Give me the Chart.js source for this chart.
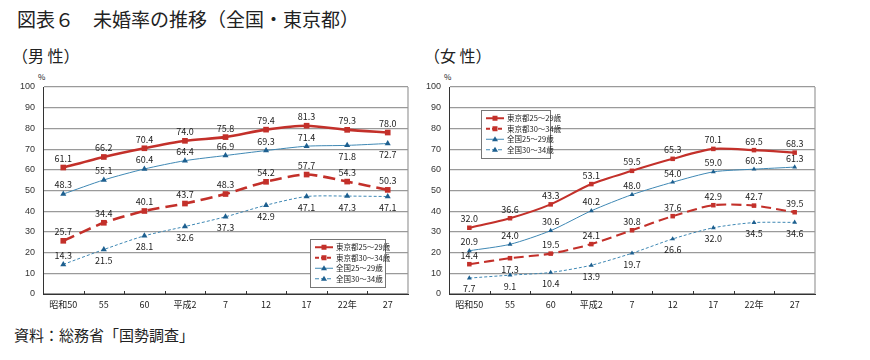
<!DOCTYPE html>
<html><head><meta charset="utf-8">
<script src="https://cdn.jsdelivr.net/npm/chart.js@4/dist/chart.umd.min.js"></script>
<style>
body{margin:0;background:#fff;width:870px;height:360px;position:relative;overflow:hidden;font-family:"Noto Sans CJK JP","Noto Sans",sans-serif;color:#222}
.t{position:absolute;white-space:nowrap}
canvas{position:absolute}
</style></head><body>
<div class="t" style="left:17px;top:5px;font-size:19px;">図表６　未婚率の推移（全国・東京都）</div>
<div class="t" style="left:12px;top:43px;font-size:16px;">（男 性）</div>
<div class="t" style="left:424px;top:43px;font-size:16px;">（女 性）</div>
<div class="t" style="left:38px;top:71px;font-size:8px;">%</div>
<div class="t" style="left:444px;top:71px;font-size:8px;">%</div>
<div class="t" style="left:14px;top:324px;font-size:15px;">資料：総務省「国勢調査」</div>
<canvas id="m" style="left:0;top:70px" width="420" height="250"></canvas>
<canvas id="f" style="left:420px;top:70px" width="430" height="250"></canvas>
<script>
const categories = ['昭和50','55','60','平成2','7','12','17','22年','27'];
const seriesNames = ['東京都25～29歳','東京都30～34歳','全国25～29歳','全国30～34歳'];
const yTicks = [0,10,20,30,40,50,60,70,80,90,100];

const maleTokyo2529 = [61.1,66.2,70.4,74.0,75.8,79.4,81.3,79.3,78.0];
const maleTokyo3034 = [25.7,34.4,40.1,43.7,48.3,54.2,57.7,54.3,50.3];
const maleNational2529 = [48.3,55.1,60.4,64.4,66.9,69.3,71.4,71.8,72.7];
const maleNational3034 = [14.3,21.5,28.1,32.6,37.3,42.9,47.1,47.3,47.1];

const femaleTokyo2529 = [32.0,36.6,43.3,53.1,59.5,65.3,70.1,69.5,68.3];
const femaleTokyo3034 = [14.4,17.3,19.5,24.1,30.8,37.6,42.9,42.7,39.5];
const femaleNational2529 = [20.9,24.0,30.6,40.2,48.0,54.0,59.0,60.3,61.3];
const femaleNational3034 = [7.7,9.1,10.4,13.9,19.7,26.6,32.0,34.5,34.6];

// label placement (a = above, b = below)
const malePlace = [
  'aaaaaaaaa','aaaaaaaaa','aaaaaaabb','abbbbbbbb'
];
const femalePlace = [
  'aaaaaaaaa','abaaaaaaa','aaaaaaaaa','bbbbbbbbb'
];

const RED='#c3302a', TEAL='#3f88b4', NAVY='#1d5f8f';
const CJK='"Noto Sans CJK JP","Noto Sans",sans-serif';

function makeDatasets(vals, big){
  const s = big?1:0.8;
  return [
    {label:seriesNames[0],data:vals[0],borderColor:RED,backgroundColor:RED,borderWidth:2.6*s,pointStyle:'rect',pointRadius:4*s,pointBorderWidth:0,tension:0.25},
    {label:seriesNames[1],data:vals[1],borderColor:RED,backgroundColor:RED,borderWidth:2.6*s,borderDash:big?[12,6]:[10,5],pointStyle:'rect',pointRadius:4*s,pointBorderWidth:0,tension:0.25},
    {label:seriesNames[2],data:vals[2],borderColor:TEAL,backgroundColor:NAVY,borderWidth:1,pointStyle:'triangle',pointRadius:3.5*s,pointBorderWidth:0,tension:0.25},
    {label:seriesNames[3],data:vals[3],borderColor:TEAL,backgroundColor:NAVY,borderWidth:1,borderDash:[3,2],pointStyle:'triangle',pointRadius:3.5*s,pointBorderWidth:0,tension:0.25}
  ];
}

const labelPlugin = {
  id:'vals',
  afterDatasetsDraw(chart){
    const ctx=chart.ctx, place=chart.options.plugins.vals.place;
    ctx.save();
    ctx.font='9px '+CJK; ctx.fillStyle='#222'; ctx.textAlign='center'; ctx.textBaseline='middle';
    chart.data.datasets.forEach((ds,i)=>{
      chart.getDatasetMeta(i).data.forEach((pt,j)=>{
        const off = place[i][j]==='a' ? -9 : 11;
        ctx.fillText(ds.data[j].toFixed(1), pt.x, pt.y+off);
      });
    });
    ctx.restore();
  }
};

const framePlugin = {
  id:'frame',
  beforeDatasetsDraw(chart){
    const ctx=chart.ctx, a=chart.chartArea, x=chart.scales.x;
    ctx.save();
    ctx.strokeStyle='#9a9a9a'; ctx.lineWidth=1.2;
    ctx.beginPath(); ctx.moveTo(a.right,a.top); ctx.lineTo(a.right,a.bottom); ctx.stroke();
    ctx.strokeStyle='#333'; ctx.lineWidth=1;
    ctx.beginPath();
    for(let i=0;i<categories.length-1;i++){
      const px=Math.round((x.getPixelForValue(i)+x.getPixelForValue(i+1))/2)+0.5;
      ctx.moveTo(px,a.bottom); ctx.lineTo(px,a.bottom-3);
    }
    ctx.stroke();
    ctx.restore();
  }
};

const legendPlugin = {
  id:'boxlegend',
  afterDatasetsDraw(chart){
    const o=chart.options.plugins.boxlegend, ctx=chart.ctx;
    ctx.save();
    ctx.fillStyle='#fff'; ctx.strokeStyle='#777'; ctx.lineWidth=1;
    ctx.fillRect(o.x,o.y,o.w,o.h); ctx.strokeRect(o.x+0.5,o.y+0.5,o.w,o.h);
    ctx.font='7.5px '+CJK; ctx.textBaseline='middle'; ctx.textAlign='left';
    const rowH=(o.h-6)/4;
    chart.data.datasets.forEach((ds,i)=>{
      const cy=o.y+3+rowH*(i+0.5), x0=o.x+5, x1=o.x+23;
      ctx.strokeStyle=ds.borderColor; ctx.lineWidth=Math.min(ds.borderWidth,2);
      ctx.setLineDash(ds.borderDash?[4,2]:[]);
      ctx.beginPath(); ctx.moveTo(x0,cy); ctx.lineTo(x1,cy); ctx.stroke();
      ctx.setLineDash([]);
      ctx.fillStyle=ds.backgroundColor;
      const mx=(x0+x1)/2;
      if(ds.pointStyle==='rect'){ ctx.fillRect(mx-2.5,cy-2.5,5,5); }
      else { ctx.beginPath(); ctx.moveTo(mx,cy-3); ctx.lineTo(mx+3,cy+2); ctx.lineTo(mx-3,cy+2); ctx.closePath(); ctx.fill(); }
      ctx.fillStyle='#222';
      ctx.fillText(ds.label,x1+3,cy);
    });
    ctx.restore();
  }
};

function build(id, vals, place, yWidth, padRight, legendBox, big){
  return new Chart(document.getElementById(id),{
    type:'line',
    data:{labels:categories,datasets:makeDatasets(vals,big)},
    options:{
      responsive:false,animation:false,
      layout:{padding:{left:0,right:padRight,top:17,bottom:0}},
      plugins:{legend:{display:false},tooltip:{enabled:false},
        vals:{place:place},boxlegend:legendBox},
      scales:{
        x:{offset:true,
          grid:{display:true,drawOnChartArea:false,drawTicks:false,offset:true},
          border:{color:'#333',width:1},
          ticks:{font:{family:CJK,size:9},color:'#222',padding:5,maxRotation:0,autoSkip:false},
          afterFit(s){s.height=26;}
        },
        y:{min:0,max:100,
          afterBuildTicks(s){s.ticks=yTicks.map(v=>({value:v}));},
          grid:{color:'#9a9a9a',lineWidth:1.2,drawTicks:false},
          border:{color:'#333',width:1},
          ticks:{font:{family:'"Liberation Sans",Arial,sans-serif',size:9},color:'#333',padding:8},
          afterFit(s){s.width=yWidth;}
        }
      }
    },
    plugins:[framePlugin,labelPlugin,legendPlugin]
  });
}

build('m',[maleTokyo2529,maleTokyo3034,maleNational2529,maleNational3034],malePlace,43,12,
  {x:310,y:169,w:75,h:48},true);
build('f',[femaleTokyo2529,femaleTokyo3034,femaleNational2529,femaleNational3034],femalePlace,29,35,
  {x:61,y:40,w:69,h:48},false);
</script>
</body></html>
